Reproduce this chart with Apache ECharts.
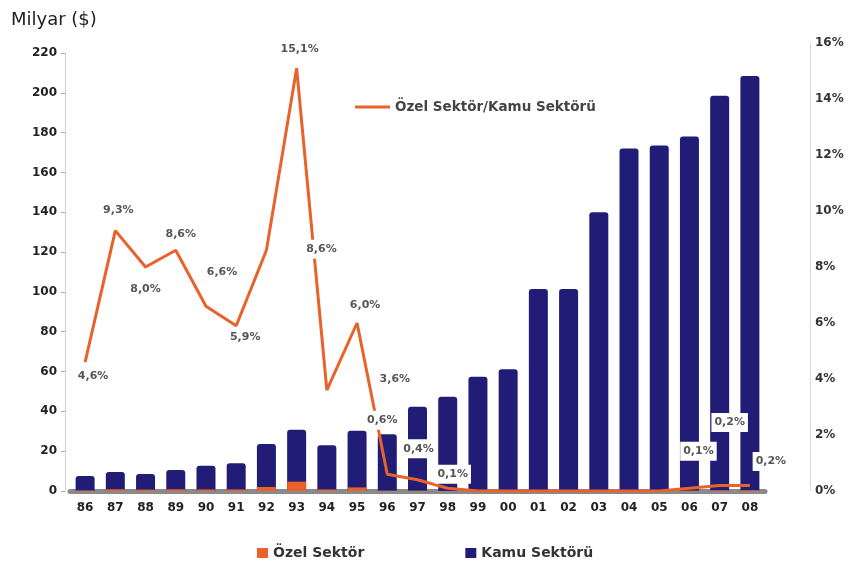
<!DOCTYPE html>
<html>
<head>
<meta charset="utf-8">
<script src="https://cdn.jsdelivr.net/npm/echarts@6/dist/echarts.min.js"></script>
<style>
  html, body { margin: 0; padding: 0; background: #fff; }
  #chart { width: 856px; height: 569px; }
</style>
</head>
<body>
<div id="chart"></div>
<script>
// Years (1986 - 2008)
const years = ['86','87','88','89','90','91','92','93','94','95','96','97','98','99','00','01','02','03','04','05','06','07','08'];

// Public sector, billion $
const kamuSektoru = [7.5, 9.5, 8.5, 10.5, 12.7, 14, 23.6, 30.8, 23, 30.3, 28.5, 42.3, 47.4, 57.4, 61.1, 101.5, 101.5, 140, 172, 173.5, 178, 198.5, 208.5];

// Private sector, billion $
const ozelSektor = [0.3, 0.9, 0.7, 0.9, 0.8, 0.8, 2.0, 4.7, 0.8, 1.8, 0.2, 0.2, 0.05, 0, 0, 0, 0, 0, 0, 0, 0.2, 0.4, 0.4];

// Private / public ratio, %
const oran = [4.6, 9.3, 8.0, 8.6, 6.6, 5.9, 8.6, 15.1, 3.6, 6.0, 0.6, 0.4, 0.1, 0.0, 0.0, 0.0, 0.0, 0.0, 0.0, 0.0, 0.1, 0.2, 0.2];

// Tick labels
const leftTicks = { min: 0, max: 220, step: 20 };
const rightTicks = { min: 0, max: 16, step: 2 };

// Where each ratio label sits relative to its point (null = no label)
const labelOffsets = [
  [8, 14], [3, -20], [0, 22], [5, -16], [16, -34], [9, 11], [55, -1], [3, -19],
  [68, -11], [8, -18], [-5, -54], [1, -31], [5, -14],
  null, null, null, null, null, null, null,
  [9, -37], [10, -63], [21, -24]
];

const FONT = 'DejaVu Sans';
const NAVY = '#211d77';
const ORANGE = '#e8622a';

const ratioData = oran.map((v, i) => {
  const off = labelOffsets[i];
  return off
    ? { value: v, label: { show: true, offset: off } }
    : { value: v, label: { show: false } };
});

const chart = echarts.init(document.getElementById('chart'), null, { renderer: 'canvas' });

chart.setOption({
  animation: false,
  backgroundColor: '#ffffff',
  title: {
    text: 'Milyar ($)',
    left: 6,
    top: 6,
    textStyle: { fontFamily: FONT, fontSize: 18, fontWeight: 'normal', color: '#222' }
  },
  legend: [
    {
      data: [{ name: 'Özel Sektör/Kamu Sektörü', icon: 'rect' }],
      left: 350,
      top: 95,
      itemWidth: 35,
      itemHeight: 3,
      textStyle: { fontFamily: FONT, fontSize: 13.5, fontWeight: 'bold', color: '#444' }
    },
    {
      data: ['Özel Sektör', 'Kamu Sektörü'],
      left: 252,
      top: 541,
      icon: 'rect',
      itemWidth: 11,
      itemHeight: 10,
      itemGap: 101,
      textStyle: { fontFamily: FONT, fontSize: 14, fontWeight: 'bold', color: '#333' }
    }
  ],
  grid: [
    { left: 70, right: 91, top: 53, bottom: 78 },
    { left: 70, right: 91, top: 43, bottom: 78 }
  ],
  xAxis: [
    {
      type: 'category',
      gridIndex: 0,
      data: years,
      axisLine: { show: true, lineStyle: { color: '#8a8a8a', width: 5 } },
      axisTick: { show: false },
      axisLabel: { margin: 11, fontFamily: FONT, fontSize: 12, fontWeight: 'bold', color: '#222' }
    },
    {
      type: 'category',
      gridIndex: 1,
      data: years,
      show: false
    }
  ],
  yAxis: [
    {
      type: 'value',
      gridIndex: 0,
      min: leftTicks.min,
      max: leftTicks.max,
      interval: leftTicks.step,
      offset: 5,
      axisLine: { show: true, lineStyle: { color: '#d0d0d0', width: 1 } },
      axisTick: { show: true, length: 4, lineStyle: { color: '#aaa' } },
      splitLine: { show: false },
      axisLabel: { margin: 8, fontFamily: FONT, fontSize: 12, fontWeight: 'bold', color: '#222' }
    },
    {
      type: 'value',
      gridIndex: 1,
      position: 'right',
      min: rightTicks.min,
      max: rightTicks.max,
      interval: rightTicks.step,
      offset: 45,
      axisLine: { show: true, lineStyle: { color: '#d8d8d8', width: 1 } },
      axisTick: { show: false },
      splitLine: { show: false },
      axisLabel: { margin: 5, formatter: '{value}%', fontFamily: FONT, fontSize: 12, fontWeight: 'bold', color: '#333' }
    }
  ],
  series: [
    {
      name: 'Kamu Sektörü',
      type: 'bar',
      xAxisIndex: 0,
      yAxisIndex: 0,
      data: kamuSektoru,
      barWidth: 19,
      z: 2,
      itemStyle: { color: NAVY, borderRadius: [3, 3, 0, 0] }
    },
    {
      name: 'Özel Sektör',
      type: 'bar',
      xAxisIndex: 0,
      yAxisIndex: 0,
      data: ozelSektor,
      barWidth: 19,
      barGap: '-100%',
      z: 3,
      itemStyle: { color: ORANGE }
    },
    {
      name: 'Özel Sektör/Kamu Sektörü',
      type: 'line',
      xAxisIndex: 1,
      yAxisIndex: 1,
      data: ratioData,
      symbol: 'circle',
      symbolSize: 0.1,
      showSymbol: true,
      z: 6,
      lineStyle: { color: ORANGE, width: 3 },
      itemStyle: { color: ORANGE },
      label: {
        show: true,
        position: 'inside',
        formatter: p => p.value.toFixed(1).replace('.', ',') + '%',
        fontFamily: FONT,
        fontSize: 11,
        fontWeight: 'bold',
        color: '#555',
        backgroundColor: '#ffffff',
        padding: [4, 3]
      }
    }
  ]
});
</script>
</body>
</html>
